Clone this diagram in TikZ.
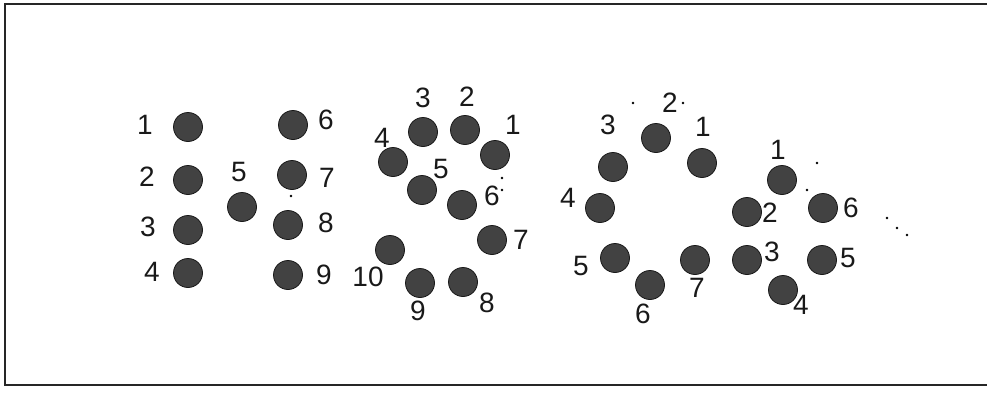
\documentclass[tikz,border=0pt]{standalone}
\usepackage{fontspec}
\setmainfont{Liberation Sans}
\begin{document}
\begin{tikzpicture}[x=1pt,y=-1pt,
  dot/.style={circle,fill=black!74,draw=black!90,line width=0.8pt,minimum size=29pt,inner sep=0pt},
  lab/.style={font=\fontsize{28}{28}\selectfont,inner sep=0pt,text=black!90},
  speck/.style={circle,fill=black,inner sep=0pt,minimum size=2.6pt}]
\useasboundingbox (0,0) rectangle (987,392);
\draw[line width=2pt,black!85] (987,4) -- (5,4) -- (5,385) -- (987,385);
% group A
\node[dot] (a1) at (188,127) {}; \node[lab] (la1) at (145,125) {1};
\node[dot] (a2) at (188,180) {}; \node[lab] (la2) at (147,177) {2};
\node[dot] (a3) at (188,230) {}; \node[lab] (la3) at (148,227) {3};
\node[dot] (a4) at (188,273) {}; \node[lab] (la4) at (152,272) {4};
\node[dot] (a5) at (242,207) {}; \node[lab] (la5) at (239,172) {5};
\node[dot] (a6) at (293,125) {}; \node[lab] (la6) at (326,120) {6};
\node[dot] (a7) at (292,175) {}; \node[lab] (la7) at (327,178) {7};
\node[dot] (a8) at (288,225) {}; \node[lab] (la8) at (326,223) {8};
\node[dot] (a9) at (288,275) {}; \node[lab] (la9) at (324,275) {9};
\node[speck] (sa1) at (291,196) {};
% group B
\node[dot] (b1) at (495,155) {}; \node[lab] (lb1) at (513,125) {1};
\node[dot] (b2) at (465,130) {}; \node[lab] (lb2) at (467,97) {2};
\node[dot] (b3) at (423,132) {}; \node[lab] (lb3) at (423,98) {3};
\node[dot] (b4) at (393,162) {}; \node[lab] (lb4) at (382,138) {4};
\node[dot] (b5) at (422,190) {}; \node[lab] (lb5) at (441,169) {5};
\node[dot] (b6) at (462,205) {}; \node[lab] (lb6) at (492,196) {6};
\node[dot] (b7) at (492,240) {}; \node[lab] (lb7) at (521,240) {7};
\node[dot] (b8) at (463,282) {}; \node[lab] (lb8) at (487,303) {8};
\node[dot] (b9) at (420,283) {}; \node[lab] (lb9) at (418,311) {9};
\node[dot] (b10) at (390,250) {}; \node[lab] (lb10) at (368,277) {10};
\node[speck] (sb1) at (502,178) {};
\node[speck] (sb2) at (502,190) {};
% group C
\node[dot] (c1) at (702,163) {}; \node[lab] (lc1) at (703,127) {1};
\node[dot] (c2) at (656,138) {}; \node[lab] (lc2) at (670,103) {2};
\node[dot] (c3) at (613,167) {}; \node[lab] (lc3) at (608,125) {3};
\node[dot] (c4) at (600,208) {}; \node[lab] (lc4) at (568,198) {4};
\node[dot] (c5) at (615,258) {}; \node[lab] (lc5) at (581,266) {5};
\node[dot] (c6) at (650,285) {}; \node[lab] (lc6) at (643,314) {6};
\node[dot] (c7) at (695,260) {}; \node[lab] (lc7) at (697,288) {7};
\node[speck] (sc1) at (633,103) {};
\node[speck] (sc2) at (683,103) {};
% group D
\node[dot] (d1) at (782,180) {}; \node[lab] (ld1) at (778,150) {1};
\node[dot] (d2) at (747,212) {}; \node[lab] (ld2) at (770,213) {2};
\node[dot] (d3) at (747,260) {}; \node[lab] (ld3) at (772,252) {3};
\node[dot] (d4) at (783,290) {}; \node[lab] (ld4) at (801,305) {4};
\node[dot] (d5) at (822,260) {}; \node[lab] (ld5) at (848,258) {5};
\node[dot] (d6) at (823,208) {}; \node[lab] (ld6) at (851,208) {6};
\node[speck] (sd1) at (817,163) {};
\node[speck] (sd2) at (807,190) {};
\node[speck] (sd3) at (887,218) {};
\node[speck] (sd4) at (897,228) {};
\node[speck] (sd5) at (907,235) {};
\end{tikzpicture}
\end{document}
